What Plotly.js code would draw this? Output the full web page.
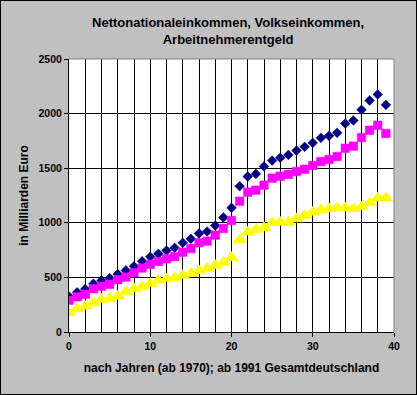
<!DOCTYPE html>
<html>
<head>
<meta charset="utf-8">
<script src="https://cdn.plot.ly/plotly-3.0.1.min.js"></script>
<style>
html,body{margin:0;padding:0;background:#C0C0C0;}
#wrap{position:relative;width:417px;height:395px;}
#chart{width:417px;height:395px;}
#frame{position:absolute;left:0;top:0;width:415px;height:393px;border:1px solid #000;pointer-events:none;}
</style>
</head>
<body>
<div id="wrap"><div id="chart"></div><div id="frame"></div></div>
<script>
// Jahre ab 1970 (0 = 1970)
const years = [0,1,2,3,4,5,6,7,8,9,10,11,12,13,14,15,16,17,18,19,20,21,22,23,24,25,26,27,28,29,30,31,32,33,34,35,36,37,38,39];
// Nettonationaleinkommen (Mrd. Euro)
const nettonational = [325,363,394,442,472,494,530,564,602,648,689,716,746,771,817,853,902,920,975,1049,1137,1335,1424,1448,1516,1570,1595,1622,1662,1696,1732,1778,1797,1824,1909,1937,2035,2120,2175,2080];
// Volkseinkommen (Mrd. Euro)
const volkseinkommen = [291,322,345,396,419,437,479,503,542,586,620,646,670,690,731,765,817,832,887,948,1021,1198,1281,1299,1345,1409,1427,1444,1470,1491,1525,1561,1580,1607,1683,1702,1781,1848,1894,1818];
// Arbeitnehmerentgeld (Mrd. Euro)
const arbeitnehmer = [178,212,236,267,298,304,328,368,396,414,441,474,487,496,517,536,560,584,609,639,682,841,914,939,954,1000,1005,1005,1036,1067,1097,1118,1128,1136,1136,1128,1146,1183,1227,1227];

const titleText = 'Nettonationaleinkommen, Volkseinkommen,<br>Arbeitnehmerentgeld';
const xTitle = 'nach Jahren (ab 1970); ab 1991 Gesamtdeutschland';
const yTitle = 'in Milliarden Euro';

const FONT = 'Liberation Sans, Arial, sans-serif';

const traces = [
  {x: years, y: nettonational, mode: 'markers', type: 'scatter', name: 'Nettonationaleinkommen',
   marker: {symbol: 'diamond', size: 7.5, color: '#000080', line: {color: '#000080', width: 0.5}}},
  {x: years, y: volkseinkommen, mode: 'markers', type: 'scatter', name: 'Volkseinkommen',
   marker: {symbol: 'square', size: 8.5, color: '#FF00FF', line: {color: '#FF00FF', width: 0.5}}},
  {x: years, y: arbeitnehmer, mode: 'markers', type: 'scatter', name: 'Arbeitnehmerentgeld',
   marker: {symbol: 'triangle-up', size: 12, color: '#FFFF00', line: {color: '#FFFF00', width: 0.5}}}
];

const layout = {
  width: 417, height: 395,
  paper_bgcolor: '#C0C0C0',
  plot_bgcolor: '#FFFFFF',
  showlegend: false,
  margin: {l: 69, r: 23, t: 59, b: 62.5},
  font: {family: FONT, color: '#000', size: 11},
  title: {text: titleText, x: 0.547, xref: 'container', xanchor: 'center',
          y: 0.932, yref: 'container', yanchor: 'middle',
          font: {family: FONT, size: 13, color: '#000', weight: 'bold'}},
  xaxis: {
    range: [0, 40], dtick: 10, tick0: 0,
    showgrid: true, gridcolor: '#000', gridwidth: 1,
    minor: {dtick: 2, showgrid: true, gridcolor: '#000', gridwidth: 1},
    showline: true, linecolor: '#000', linewidth: 1,
    ticks: 'outside', ticklen: 4, tickcolor: '#000',
    zeroline: false, fixedrange: true,
    tickfont: {family: FONT, size: 10.5, color: '#000', weight: 'bold'},
    title: {text: xTitle, standoff: 13, font: {family: FONT, size: 12, color: '#000', weight: 'bold'}}
  },
  yaxis: {
    range: [0, 2500], dtick: 500, tick0: 0,
    showgrid: true, gridcolor: '#000', gridwidth: 1,
    showline: true, linecolor: '#000', linewidth: 1,
    ticks: 'outside', ticklen: 4, tickcolor: '#000',
    zeroline: false, fixedrange: true,
    tickfont: {family: FONT, size: 10.5, color: '#000', weight: 'bold'},
    title: {text: yTitle, standoff: 7, font: {family: FONT, size: 12, color: '#000', weight: 'bold'}}
  },
  shapes: [
    {type: 'line', xref: 'paper', yref: 'paper', x0: 0, x1: 1, y0: 1, y1: 1, line: {color: '#808080', width: 1}, layer: 'above'},
    {type: 'line', xref: 'paper', yref: 'paper', x0: 1, x1: 1, y0: 0, y1: 1, line: {color: '#808080', width: 1}, layer: 'above'}
  ]
};

Plotly.newPlot('chart', traces, layout, {displayModeBar: false, staticPlot: true});
</script>
</body>
</html>
